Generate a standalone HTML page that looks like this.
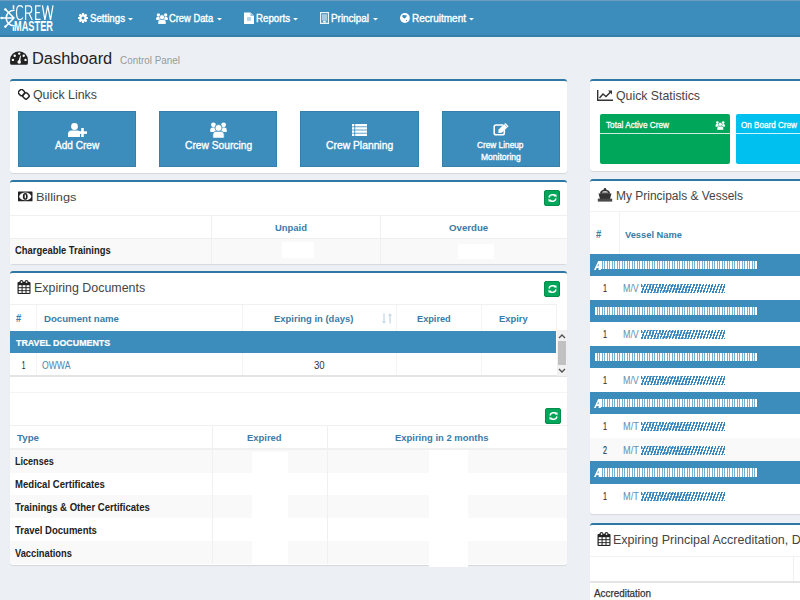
<!DOCTYPE html>
<html><head><meta charset="utf-8"><style>
html,body{margin:0;padding:0;}
body{width:800px;height:600px;overflow:hidden;position:relative;background:#ecf0f5;font-family:"Liberation Sans",sans-serif;}
.t{position:absolute;white-space:nowrap;transform-origin:0 0;}
.r{position:absolute;display:block;}
.box{position:absolute;background:#fff;border-top:2px solid #2f78a5;border-radius:3px;box-shadow:0 1px 1px rgba(0,0,0,0.1);}
</style></head><body>
<div class="r" style="left:0px;top:0px;width:800px;height:37px;background:#3c8dbc;"></div>
<div class="r" style="left:0px;top:0px;width:800px;height:1px;background:#6c9ec2;"></div>
<div class="r" style="left:0px;top:34px;width:800px;height:1px;background:#3a8ac0;"></div>
<div class="r" style="left:0px;top:35px;width:800px;height:2px;background:#367fa8;"></div>
<svg class="r" style="left:0px;top:0px" width="56" height="36" viewBox="0 0 56 36"><g fill="none" stroke="#fff" stroke-width="1.6" stroke-linecap="round">
<path d="M14 10.2 A7.8 7.8 0 0 0 14 25.8"/>
<path d="M14 18 L1.5 18 M14 18 L5.3 9.3 M14 18 L5.3 26.7 M13.5 5.8 L13.5 8.5 M13.5 27.5 L13.5 30.2"/>
</g><g fill="#fff"><circle cx="1.6" cy="18" r="1.2"/><circle cx="5.4" cy="9.4" r="1.2"/><circle cx="5.4" cy="26.6" r="1.2"/></g>
<g fill="none" stroke="#fff" stroke-width="1.25">
<path d="M22.8 7.6 Q22.2 5.6 19.6 5.6 Q16.5 5.6 16.5 12.6 Q16.5 19.6 19.6 19.6 Q22.2 19.6 22.8 17.6"/>
<path d="M25.6 20 L25.6 5.8 L29 5.8 Q31.7 5.8 31.7 9.4 Q31.7 13 29 13 L25.6 13 M28.9 13 L32.2 20"/>
<path d="M40.6 5.8 L35.7 5.8 L35.7 19.4 L40.6 19.4 M35.7 12.5 L39.8 12.5"/>
<path d="M42.4 5.4 L44.9 20 L47.7 5.6 L50.5 20 L53 5.4"/>
</g></svg>
<div class="t" style="left:13.50px;top:17.50px;font-size:13.95px;line-height:17px;color:#fff;font-weight:bold;transform:scaleX(0.6623);">MASTER</div>
<div class="t" style="left:90.00px;top:11.50px;font-size:11.19px;line-height:13px;color:#fff;transform:scaleX(0.8651);-webkit-text-stroke:0.4px #fff;">Settings</div>
<div class="t" style="left:169.40px;top:11.50px;font-size:11.19px;line-height:13px;color:#fff;transform:scaleX(0.8349);-webkit-text-stroke:0.4px #fff;">Crew Data</div>
<div class="t" style="left:255.60px;top:11.50px;font-size:11.19px;line-height:13px;color:#fff;transform:scaleX(0.8680);-webkit-text-stroke:0.4px #fff;">Reports</div>
<div class="t" style="left:331.00px;top:11.50px;font-size:11.19px;line-height:13px;color:#fff;transform:scaleX(0.8854);-webkit-text-stroke:0.4px #fff;">Principal</div>
<div class="t" style="left:411.60px;top:11.50px;font-size:11.19px;line-height:13px;color:#fff;transform:scaleX(0.8952);-webkit-text-stroke:0.4px #fff;">Recruitment</div>
<svg class="r" style="left:128px;top:18px" width="5" height="3" viewBox="0 0 5 3"><path d="M0 0 L5 0 L2.5 2.6 Z" fill="#fff"/></svg>
<svg class="r" style="left:217px;top:18px" width="5" height="3" viewBox="0 0 5 3"><path d="M0 0 L5 0 L2.5 2.6 Z" fill="#fff"/></svg>
<svg class="r" style="left:293px;top:18px" width="5" height="3" viewBox="0 0 5 3"><path d="M0 0 L5 0 L2.5 2.6 Z" fill="#fff"/></svg>
<svg class="r" style="left:373px;top:18px" width="5" height="3" viewBox="0 0 5 3"><path d="M0 0 L5 0 L2.5 2.6 Z" fill="#fff"/></svg>
<svg class="r" style="left:469px;top:18px" width="5" height="3" viewBox="0 0 5 3"><path d="M0 0 L5 0 L2.5 2.6 Z" fill="#fff"/></svg>
<svg class="r" style="left:78px;top:13px" width="10" height="10" viewBox="0 0 10 10"><g fill="#fff"><circle cx="5" cy="5" r="3.6"/>
<rect x="3.9" y="0" width="2.2" height="10" rx="0.6"/><rect x="0" y="3.9" width="10" height="2.2" rx="0.6"/>
<rect x="3.9" y="0" width="2.2" height="10" rx="0.6" transform="rotate(45 5 5)"/><rect x="3.9" y="0" width="2.2" height="10" rx="0.6" transform="rotate(-45 5 5)"/></g>
<circle cx="5" cy="5" r="1.5" fill="#3c8dbc"/></svg>
<svg class="r" style="left:155.5px;top:12.5px" width="12" height="11.3" viewBox="0 0 17 16"><g fill="#fff"><circle cx="3.4" cy="2.8" r="2.4"/><circle cx="13.6" cy="2.8" r="2.4"/>
<path d="M0.3 10 L0.3 7.5 Q0.3 5.5 2.5 5.5 L5 5.5 Q6.5 5.5 6.5 7.5 L6.5 10 Z"/><path d="M16.7 10 L16.7 7.5 Q16.7 5.5 14.5 5.5 L12 5.5 Q10.5 5.5 10.5 7.5 L10.5 10 Z"/></g>
<g fill="#fff" stroke="#3c8dbc" stroke-width="0.8"><circle cx="8.5" cy="6" r="3.5"/><path d="M2.8 16.2 L2.8 12.5 Q2.8 9.3 6 9.3 L11 9.3 Q14.2 9.3 14.2 12.5 L14.2 16.2 Z"/></g></svg>
<svg class="r" style="left:244px;top:12px" width="10" height="12" viewBox="0 0 10 12"><path d="M0 0.5 L6.5 0.5 L10 4 L10 12 L0 12 Z" fill="#fff"/><path d="M6.5 0.5 L6.5 4 L10 4 Z" fill="#9cc3dc"/>
<rect x="3" y="5" width="4" height="4" fill="#b8d5e8"/></svg>
<svg class="r" style="left:320px;top:12px" width="9" height="12" viewBox="0 0 9 12"><rect x="0.6" y="0.6" width="7.8" height="10.8" fill="none" stroke="#e8f4f8" stroke-width="1.2"/>
<rect x="2" y="2.2" width="5" height="6.5" fill="#a9c9dd"/><path d="M2.3 10.5 Q4.5 7 6.7 10.5 Z" fill="#fff"/></svg>
<svg class="r" style="left:400px;top:13px" width="10" height="10" viewBox="0 0 10 10"><circle cx="4.9" cy="5" r="4.9" fill="#fff"/><path d="M2.2 3 Q2.5 1.5 3.8 2 Q4.5 2.6 5.5 2.2 Q6.8 1.8 6.6 3.2 Q6.3 4.5 4.6 5.6 Q3.5 5.2 2.9 4.5 Q2.2 3.8 2.2 3 Z" fill="#3c8dbc"/><circle cx="6.5" cy="7.5" r="0.6" fill="#3c8dbc"/></svg>
<svg class="r" style="left:10px;top:51px" width="18" height="14" viewBox="0 0 18 14"><path d="M9 0.2 A8.9 8.9 0 0 1 17.9 9.1 L17.9 12.3 Q17.9 13.8 16.4 13.8 L1.6 13.8 Q0.1 13.8 0.1 12.3 L0.1 9.1 A8.9 8.9 0 0 1 9 0.2 Z" fill="#222"/>
<g fill="#fff"><circle cx="9.2" cy="2.6" r="1.2"/><circle cx="4.7" cy="4.7" r="1.2"/><circle cx="13.7" cy="4.7" r="1.2"/><circle cx="2.9" cy="8.9" r="1.2"/><circle cx="15.5" cy="8.9" r="1.2"/>
<circle cx="9.2" cy="11" r="1.8"/><path d="M8.3 10.8 L10.2 4.6 L10.9 4.8 L10.1 11.2 Z"/></g></svg>
<div class="t" style="left:31.60px;top:48.70px;font-size:16.86px;line-height:20px;color:#222;transform:scaleX(0.9727);">Dashboard</div>
<div class="t" style="left:120.00px;top:52.80px;font-size:11.63px;line-height:14px;color:#999;transform:scaleX(0.8515);">Control Panel</div>
<div class="box" style="left:10px;top:79px;width:557px;height:92px"></div>
<svg class="r" style="left:18px;top:89px" width="12" height="11" viewBox="0 0 12 11"><g fill="none" stroke="#222" stroke-width="1.5"><rect x="0.8" y="0.8" width="5.5" height="5.5" rx="1.8" transform="rotate(45 3.5 3.5)"/><rect x="5.2" y="4.2" width="5.5" height="5.5" rx="1.8" transform="rotate(45 8 7)"/></g></svg>
<div class="t" style="left:33.00px;top:87.50px;font-size:12.35px;line-height:15px;color:#444;transform:scaleX(1.0020);">Quick Links</div>
<div class="r" style="left:18px;top:111px;width:118px;height:56px;background:#3c8dbc;border:1px solid #367fa9;box-sizing:border-box;"></div>
<div class="r" style="left:159px;top:111px;width:118px;height:56px;background:#3c8dbc;border:1px solid #367fa9;box-sizing:border-box;"></div>
<div class="r" style="left:300px;top:111px;width:119px;height:56px;background:#3c8dbc;border:1px solid #367fa9;box-sizing:border-box;"></div>
<div class="r" style="left:442px;top:111px;width:118px;height:56px;background:#3c8dbc;border:1px solid #367fa9;box-sizing:border-box;"></div>
<div class="t" style="left:54.70px;top:139.10px;font-size:10.76px;line-height:13px;color:#fff;transform:scaleX(0.9371);-webkit-text-stroke:0.35px #fff;">Add Crew</div>
<div class="t" style="left:184.80px;top:139.10px;font-size:10.76px;line-height:13px;color:#fff;transform:scaleX(0.9524);-webkit-text-stroke:0.35px #fff;">Crew Sourcing</div>
<div class="t" style="left:325.80px;top:139.10px;font-size:10.76px;line-height:13px;color:#fff;transform:scaleX(0.9605);-webkit-text-stroke:0.35px #fff;">Crew Planning</div>
<div class="t" style="left:477.30px;top:139.90px;font-size:9.01px;line-height:11px;color:#fff;transform:scaleX(0.9190);-webkit-text-stroke:0.35px #fff;">Crew Lineup</div>
<div class="t" style="left:480.70px;top:152.10px;font-size:9.01px;line-height:11px;color:#fff;transform:scaleX(0.9457);-webkit-text-stroke:0.35px #fff;">Monitoring</div>
<svg class="r" style="left:68px;top:123px" width="19" height="14" viewBox="0 0 19 14"><g fill="#fff"><circle cx="6.5" cy="3.5" r="3.4"/><path d="M0 14 L0 11 Q0 7.5 3.5 7.5 L9.5 7.5 Q11 7.5 12 8.5 L12 14 Z"/>
<rect x="10" y="8.3" width="9" height="2.6"/><rect x="13.2" y="5" width="2.6" height="9"/></g></svg>
<svg class="r" style="left:210px;top:122px" width="17" height="16" viewBox="0 0 17 16"><g fill="#fff"><circle cx="3.4" cy="2.8" r="2.4"/><circle cx="13.6" cy="2.8" r="2.4"/>
<path d="M0.3 10 L0.3 7.5 Q0.3 5.5 2.5 5.5 L5 5.5 Q6.5 5.5 6.5 7.5 L6.5 10 Z"/><path d="M16.7 10 L16.7 7.5 Q16.7 5.5 14.5 5.5 L12 5.5 Q10.5 5.5 10.5 7.5 L10.5 10 Z"/></g>
<g fill="#fff" stroke="#3c8dbc" stroke-width="0.8"><circle cx="8.5" cy="6" r="3.5"/><path d="M2.8 16.2 L2.8 12.5 Q2.8 9.3 6 9.3 L11 9.3 Q14.2 9.3 14.2 12.5 L14.2 16.2 Z"/></g></svg>
<svg class="r" style="left:352px;top:124px" width="15" height="13" viewBox="0 0 15 13"><g fill="#fff"><rect x="0" y="0" width="2.3" height="2.4"/><rect x="3.2" y="0" width="11.8" height="2.4"/>
<rect x="0" y="3.2" width="2.3" height="2.4"/><rect x="3.2" y="3.2" width="11.8" height="2.4"/>
<rect x="0" y="6.4" width="2.3" height="2.4"/><rect x="3.2" y="6.4" width="11.8" height="2.4"/>
<rect x="0" y="9.6" width="2.3" height="2.4"/><rect x="3.2" y="9.6" width="11.8" height="2.4"/></g></svg>
<svg class="r" style="left:493px;top:123px" width="16" height="13" viewBox="0 0 16 13"><path d="M10 2 L3 2 Q1.2 2 1.2 3.8 L1.2 10 Q1.2 11.8 3 11.8 L9.5 11.8 Q11.3 11.8 11.3 10 L11.3 7" fill="none" stroke="#fff" stroke-width="1.6"/>
<path d="M5.3 10 L5.6 6.6 L12.3 0 L15.6 3.3 L8.8 9.8 Z" fill="#fff"/><path d="M11.2 1.1 L14.5 4.4" stroke="#3c8dbc" stroke-width="0.6"/></svg>
<div class="box" style="left:10px;top:180px;width:557px;height:82px"></div>
<svg class="r" style="left:18px;top:191px" width="15" height="11" viewBox="0 0 15 11"><rect x="0" y="0.5" width="14.5" height="9.8" rx="0.5" fill="#222"/><ellipse cx="7.25" cy="5.4" rx="6" ry="3.9" fill="#fff"/><ellipse cx="7.25" cy="5.4" rx="2.4" ry="3.4" fill="#222"/><rect x="6.7" y="3.6" width="1.2" height="3.6" fill="#fff"/></svg>
<div class="t" style="left:35.50px;top:189.80px;font-size:11.63px;line-height:14px;color:#444;transform:scaleX(1.0987);">Billings</div>
<div class="r" style="left:544px;top:190px;width:16px;height:16px;background:#00a65a;border:1px solid #008d4c;box-sizing:border-box;border-radius:2px;"></div>
<svg class="r" style="left:548px;top:194px" width="9" height="8" viewBox="0 0 9 8"><g fill="none" stroke="#fff" stroke-width="1.5"><path d="M1 3.5 A3.5 3.5 0 0 1 7.3 2.2"/><path d="M8 4.5 A3.5 3.5 0 0 1 1.7 5.8"/></g>
<path d="M5.5 0.5 L8.5 0.5 L8.5 3.5 Z M3.5 7.5 L0.5 7.5 L0.5 4.5 Z" fill="#fff"/></svg>
<div class="r" style="left:10px;top:215px;width:557px;height:1px;background:#f0f0f0;"></div>
<div class="r" style="left:10px;top:238px;width:557px;height:1px;background:#eeeeee;"></div>
<div class="r" style="left:10px;top:239px;width:557px;height:25px;background:#f9f9f9;"></div>
<div class="r" style="left:211px;top:216px;width:1px;height:48px;background:#f0f0f0;"></div>
<div class="r" style="left:380px;top:216px;width:1px;height:48px;background:#f0f0f0;"></div>
<div class="t" style="left:275.00px;top:222.00px;font-size:9.45px;line-height:11px;color:#3a7ba6;font-weight:bold;transform:scaleX(0.9991);">Unpaid</div>
<div class="t" style="left:448.80px;top:222.00px;font-size:9.45px;line-height:11px;color:#3a7ba6;font-weight:bold;transform:scaleX(1.0232);">Overdue</div>
<div class="t" style="left:15.20px;top:245.20px;font-size:10.03px;line-height:12px;color:#222;font-weight:bold;transform:scaleX(0.9393);">Chargeable Trainings</div>
<div class="r" style="left:282px;top:242px;width:32px;height:16px;background:#fff;"></div>
<div class="r" style="left:458px;top:244px;width:36px;height:15px;background:#fff;"></div>
<div class="box" style="left:10px;top:271px;width:557px;height:292px"></div>
<svg class="r" style="left:17px;top:280px" width="14" height="14" viewBox="0 0 14 14"><path fill="#222" d="M0.5 3 Q0.5 2 1.5 2 L2.3 2 Q2.8 0 4.5 0 Q6.2 0 6.7 2 L7.3 2 Q7.8 0 9.5 0 Q11.2 0 11.7 2 L12.5 2 Q13.5 2 13.5 3 L13.5 13 Q13.5 14 12.5 14 L1.5 14 Q0.5 14 0.5 13 Z"/>
<g fill="#fff"><rect x="3.8" y="1.3" width="1.5" height="1.6"/><rect x="8.8" y="1.3" width="1.5" height="1.6"/>
<rect x="1.7" y="5.2" width="2.9" height="2"/><rect x="5.6" y="5.2" width="2.9" height="2"/><rect x="9.5" y="5.2" width="2.9" height="2"/>
<rect x="1.7" y="8.2" width="2.9" height="2"/><rect x="5.6" y="8.2" width="2.9" height="2"/><rect x="9.5" y="8.2" width="2.9" height="2"/>
<rect x="1.7" y="11.1" width="2.9" height="1.8"/><rect x="5.6" y="11.1" width="2.9" height="1.8"/><rect x="9.5" y="11.1" width="2.9" height="1.8"/></g></svg>
<div class="t" style="left:33.50px;top:279.90px;font-size:13.08px;line-height:16px;color:#444;transform:scaleX(0.9498);">Expiring Documents</div>
<div class="r" style="left:544px;top:281px;width:16px;height:16px;background:#00a65a;border:1px solid #008d4c;box-sizing:border-box;border-radius:2px;"></div>
<svg class="r" style="left:548px;top:285px" width="9" height="8" viewBox="0 0 9 8"><g fill="none" stroke="#fff" stroke-width="1.5"><path d="M1 3.5 A3.5 3.5 0 0 1 7.3 2.2"/><path d="M8 4.5 A3.5 3.5 0 0 1 1.7 5.8"/></g>
<path d="M5.5 0.5 L8.5 0.5 L8.5 3.5 Z M3.5 7.5 L0.5 7.5 L0.5 4.5 Z" fill="#fff"/></svg>
<div class="r" style="left:10px;top:304px;width:547px;height:1px;background:#f0f0f0;"></div>
<div class="r" style="left:36px;top:305px;width:1px;height:26px;background:#f4f4f4;"></div>
<div class="r" style="left:36px;top:353px;width:1px;height:23px;background:#f5f5f5;"></div>
<div class="r" style="left:242px;top:305px;width:1px;height:26px;background:#f4f4f4;"></div>
<div class="r" style="left:242px;top:353px;width:1px;height:23px;background:#f5f5f5;"></div>
<div class="r" style="left:396px;top:305px;width:1px;height:26px;background:#f4f4f4;"></div>
<div class="r" style="left:396px;top:353px;width:1px;height:23px;background:#f5f5f5;"></div>
<div class="r" style="left:481px;top:305px;width:1px;height:26px;background:#f4f4f4;"></div>
<div class="r" style="left:481px;top:353px;width:1px;height:23px;background:#f5f5f5;"></div>
<div class="r" style="left:556px;top:305px;width:1px;height:26px;background:#f2f2f2;"></div>
<div class="t" style="left:16.00px;top:311.50px;font-size:10.76px;line-height:13px;color:#3a7ba6;font-weight:bold;transform:scaleX(0.8711);">#</div>
<div class="t" style="left:43.80px;top:312.80px;font-size:9.45px;line-height:11px;color:#3a7ba6;font-weight:bold;transform:scaleX(1.0204);">Document name</div>
<div class="t" style="left:274.00px;top:313.30px;font-size:9.45px;line-height:11px;color:#3a7ba6;font-weight:bold;transform:scaleX(1.0017);">Expiring in (days)</div>
<div class="t" style="left:416.60px;top:313.30px;font-size:9.45px;line-height:11px;color:#3a7ba6;font-weight:bold;transform:scaleX(0.9748);">Expired</div>
<div class="t" style="left:499.20px;top:313.30px;font-size:9.45px;line-height:11px;color:#3a7ba6;font-weight:bold;transform:scaleX(0.9909);">Expiry</div>
<svg class="r" style="left:382px;top:313px" width="10" height="11" viewBox="0 0 10 11"><g fill="#c9dbe8"><path d="M2 11 L4 8 L2.7 8 L2.7 0.5 L1.3 0.5 L1.3 8 L0 8 Z"/><path d="M8 0 L10 3 L8.7 3 L8.7 10.5 L7.3 10.5 L7.3 3 L6 3 Z"/></g></svg>
<div class="r" style="left:10px;top:331px;width:546px;height:22px;background:#3c8dbc;"></div>
<div class="t" style="left:15.60px;top:337.70px;font-size:9.30px;line-height:11px;color:#fff;font-weight:bold;transform:scaleX(0.9526);-webkit-text-stroke:0.2px #fff;">TRAVEL DOCUMENTS</div>
<div class="t" style="left:22.20px;top:359.50px;font-size:10.03px;line-height:12px;color:#222;transform:scaleX(0.5749);-webkit-text-stroke:0.2px #222;">1</div>
<div class="t" style="left:41.90px;top:359.70px;font-size:10.03px;line-height:12px;color:#4a86ad;transform:scaleX(0.8611);">OWWA</div>
<div class="t" style="left:314.00px;top:359.50px;font-size:10.03px;line-height:12px;color:#333;transform:scaleX(0.9612);">30</div>
<div class="r" style="left:10px;top:375px;width:557px;height:2px;background:#e4e4e4;"></div>
<div class="r" style="left:557px;top:330px;width:10px;height:46px;background:#f1f1f1;"></div>
<div class="r" style="left:558px;top:341px;width:8px;height:24px;background:#c1c1c1;"></div>
<svg class="r" style="left:558px;top:333px" width="8" height="6" viewBox="0 0 8 6"><path d="M1 5 L4 2 L7 5" fill="none" stroke="#505050" stroke-width="1.4"/></svg>
<svg class="r" style="left:558px;top:368px" width="8" height="6" viewBox="0 0 8 6"><path d="M1 1 L4 4 L7 1" fill="none" stroke="#505050" stroke-width="1.4"/></svg>
<div class="r" style="left:10px;top:392px;width:557px;height:1px;background:#f4f4f4;"></div>
<div class="r" style="left:545px;top:408px;width:16px;height:16px;background:#00a65a;border:1px solid #008d4c;box-sizing:border-box;border-radius:2px;"></div>
<svg class="r" style="left:549px;top:412px" width="9" height="8" viewBox="0 0 9 8"><g fill="none" stroke="#fff" stroke-width="1.5"><path d="M1 3.5 A3.5 3.5 0 0 1 7.3 2.2"/><path d="M8 4.5 A3.5 3.5 0 0 1 1.7 5.8"/></g>
<path d="M5.5 0.5 L8.5 0.5 L8.5 3.5 Z M3.5 7.5 L0.5 7.5 L0.5 4.5 Z" fill="#fff"/></svg>
<div class="r" style="left:10px;top:425px;width:557px;height:1px;background:#f0f0f0;"></div>
<div class="r" style="left:10px;top:448px;width:557px;height:2px;background:#f0f0f0;"></div>
<div class="r" style="left:10px;top:450px;width:557px;height:23px;background:#f9f9f9;"></div>
<div class="r" style="left:10px;top:473px;width:557px;height:22px;background:#fff;"></div>
<div class="r" style="left:10px;top:495px;width:557px;height:23px;background:#f9f9f9;"></div>
<div class="r" style="left:10px;top:518px;width:557px;height:23px;background:#fff;"></div>
<div class="r" style="left:10px;top:541px;width:557px;height:23px;background:#f9f9f9;"></div>
<div class="r" style="left:212px;top:426px;width:1px;height:138px;background:#f0f0f0;"></div>
<div class="r" style="left:327px;top:426px;width:1px;height:138px;background:#f0f0f0;"></div>
<div class="t" style="left:17.00px;top:432.00px;font-size:9.45px;line-height:11px;color:#3a7ba6;font-weight:bold;transform:scaleX(1.0304);">Type</div>
<div class="t" style="left:246.70px;top:432.00px;font-size:9.45px;line-height:11px;color:#3a7ba6;font-weight:bold;transform:scaleX(0.9979);">Expired</div>
<div class="t" style="left:394.70px;top:432.00px;font-size:9.45px;line-height:11px;color:#3a7ba6;font-weight:bold;transform:scaleX(1.0007);">Expiring in 2 months</div>
<div class="t" style="left:14.70px;top:455.70px;font-size:10.03px;line-height:12px;color:#222;font-weight:bold;transform:scaleX(0.9039);">Licenses</div>
<div class="t" style="left:14.70px;top:478.70px;font-size:10.03px;line-height:12px;color:#222;font-weight:bold;transform:scaleX(0.9552);">Medical Certificates</div>
<div class="t" style="left:14.70px;top:501.70px;font-size:10.03px;line-height:12px;color:#222;font-weight:bold;transform:scaleX(0.9537);">Trainings &amp; Other Certificates</div>
<div class="t" style="left:14.70px;top:524.70px;font-size:10.03px;line-height:12px;color:#222;font-weight:bold;transform:scaleX(0.9491);">Travel Documents</div>
<div class="t" style="left:14.70px;top:547.70px;font-size:10.03px;line-height:12px;color:#222;font-weight:bold;transform:scaleX(0.9294);">Vaccinations</div>
<div class="r" style="left:252px;top:452px;width:36px;height:112px;background:#fff;"></div>
<div class="r" style="left:429px;top:450px;width:39px;height:117px;background:#fff;"></div>
<div class="box" style="left:590px;top:79px;width:240px;height:90px"></div>
<svg class="r" style="left:597px;top:90px" width="16" height="11" viewBox="0 0 16 11"><g fill="none" stroke="#333" stroke-width="1.4"><path d="M0.7 0 L0.7 10.3 L16 10.3"/><path d="M2.5 8 L6 4 L9 6.5 L14 1.5"/></g><path d="M11 0.5 L15 0.5 L15 4.5 Z" fill="#333"/></svg>
<div class="t" style="left:616.00px;top:87.50px;font-size:12.72px;line-height:15px;color:#444;transform:scaleX(0.9663);">Quick Statistics</div>
<div class="r" style="left:600px;top:114px;width:130px;height:50px;background:#00a65a;border-radius:2px;"></div>
<div class="r" style="left:600px;top:133px;width:130px;height:1px;background:rgba(255,255,255,0.8);"></div>
<div class="r" style="left:736px;top:114px;width:94px;height:50px;background:#00c0ef;border-radius:2px;"></div>
<div class="r" style="left:736px;top:133px;width:94px;height:1px;background:rgba(255,255,255,0.8);"></div>
<div class="t" style="left:606.00px;top:119.50px;font-size:8.87px;line-height:11px;color:#fff;transform:scaleX(0.9264);-webkit-text-stroke:0.3px #fff;">Total Active Crew</div>
<div class="t" style="left:741.00px;top:119.50px;font-size:8.87px;line-height:11px;color:#fff;transform:scaleX(0.9160);-webkit-text-stroke:0.3px #fff;">On Board Crew</div>
<svg class="r" style="left:715px;top:120.8px" width="10.5" height="9" viewBox="0 0 17 16"><g fill="#fff"><circle cx="3.4" cy="2.8" r="2.4"/><circle cx="13.6" cy="2.8" r="2.4"/>
<path d="M0.3 10 L0.3 7.5 Q0.3 5.5 2.5 5.5 L5 5.5 Q6.5 5.5 6.5 7.5 L6.5 10 Z"/><path d="M16.7 10 L16.7 7.5 Q16.7 5.5 14.5 5.5 L12 5.5 Q10.5 5.5 10.5 7.5 L10.5 10 Z"/></g>
<g fill="#fff" stroke="#00a65a" stroke-width="0.8"><circle cx="8.5" cy="6" r="3.5"/><path d="M2.8 16.2 L2.8 12.5 Q2.8 9.3 6 9.3 L11 9.3 Q14.2 9.3 14.2 12.5 L14.2 16.2 Z"/></g></svg>
<div class="box" style="left:590px;top:179px;width:240px;height:333px"></div>
<svg class="r" style="left:597px;top:188px" width="16" height="14" viewBox="0 0 16 14"><g fill="#333"><circle cx="8" cy="1.3" r="1.3"/><path d="M3 5.8 Q3 1.8 8 1.8 Q13 1.8 13 5.8 Z"/><path d="M1.5 5.5 L14.5 5.5 L13 11 L3 11 Z"/><rect x="0.8" y="10.6" width="14.4" height="3" fill="#4a4a4a"/></g>
<path d="M4.8 4.6 Q5.5 3.3 8 3.3 Q10.5 3.3 11.2 4.6 Z" fill="#fff"/></svg>
<div class="t" style="left:616.00px;top:187.50px;font-size:13.08px;line-height:16px;color:#444;transform:scaleX(0.9146);">My Principals &amp; Vessels</div>
<div class="r" style="left:590px;top:211px;width:240px;height:1px;background:#f2f2f2;"></div>
<div class="r" style="left:619px;top:212px;width:1px;height:42px;background:#f2f2f2;"></div>
<div class="t" style="left:595.70px;top:227.50px;font-size:10.76px;line-height:13px;color:#3a7ba6;font-weight:bold;transform:scaleX(0.8711);">#</div>
<div class="t" style="left:625.00px;top:228.70px;font-size:9.45px;line-height:11px;color:#3a7ba6;font-weight:bold;transform:scaleX(0.9866);">Vessel Name</div>
<div class="r" style="left:590px;top:254px;width:240px;height:22px;background:#3c8dbc;"></div>
<div class="r" style="left:600px;top:261px;width:157px;height:8px;background:repeating-linear-gradient(90deg,#fff 0,#fff 1.7px,rgba(255,255,255,0.3) 1.7px,rgba(255,255,255,0.3) 2.6px,#fff 2.6px,#fff 4px,rgba(255,255,255,0.3) 4px,rgba(255,255,255,0.3) 5px);"></div>
<svg class="r" style="left:594px;top:261px" width="7" height="9" viewBox="0 0 7 9"><path d="M0 9 L4.2 0 L6.8 0 L6.8 9 L4.6 9 L4.6 7 L2.6 7 L1.8 9 Z M3.3 5.2 L4.6 5.2 L4.6 2.4 Z" fill="#fff" fill-rule="evenodd"/></svg>
<div class="r" style="left:590px;top:276px;width:240px;height:24px;background:#fff;"></div>
<div class="t" style="left:602.50px;top:281.50px;font-size:10.47px;line-height:13px;color:#333;transform:scaleX(0.6887);-webkit-text-stroke:0.15px #333;">1</div>
<div class="t" style="left:623.00px;top:281.50px;font-size:10.47px;line-height:13px;color:#5f8faf;transform:scaleX(0.8482);">M/V</div>
<div class="r" style="left:641px;top:283.5px;width:84px;height:9.0px;background:repeating-linear-gradient(110deg,#3a88bd 0,#3a88bd 1.5px,transparent 1.5px,transparent 2.9px);"></div>
<div class="r" style="left:641px;top:283.5px;width:49px;height:9.0px;background:repeating-linear-gradient(70deg,rgba(58,136,189,0.6) 0,rgba(58,136,189,0.6) 1px,transparent 1px,transparent 3.3px);"></div>
<div class="r" style="left:590px;top:300px;width:240px;height:22px;background:#3c8dbc;"></div>
<div class="r" style="left:595px;top:307px;width:162px;height:8px;background:repeating-linear-gradient(90deg,#fff 0,#fff 1.7px,rgba(255,255,255,0.3) 1.7px,rgba(255,255,255,0.3) 2.6px,#fff 2.6px,#fff 4px,rgba(255,255,255,0.3) 4px,rgba(255,255,255,0.3) 5px);"></div>
<div class="r" style="left:590px;top:322px;width:240px;height:24px;background:#fff;"></div>
<div class="t" style="left:602.50px;top:327.50px;font-size:10.47px;line-height:13px;color:#333;transform:scaleX(0.6887);-webkit-text-stroke:0.15px #333;">1</div>
<div class="t" style="left:623.00px;top:327.50px;font-size:10.47px;line-height:13px;color:#5f8faf;transform:scaleX(0.8482);">M/V</div>
<div class="r" style="left:641px;top:329.5px;width:84px;height:9.0px;background:repeating-linear-gradient(110deg,#3a88bd 0,#3a88bd 1.5px,transparent 1.5px,transparent 2.9px);"></div>
<div class="r" style="left:641px;top:329.5px;width:49px;height:9.0px;background:repeating-linear-gradient(70deg,rgba(58,136,189,0.6) 0,rgba(58,136,189,0.6) 1px,transparent 1px,transparent 3.3px);"></div>
<div class="r" style="left:590px;top:346px;width:240px;height:22px;background:#3c8dbc;"></div>
<div class="r" style="left:595px;top:353px;width:162px;height:8px;background:repeating-linear-gradient(90deg,#fff 0,#fff 1.7px,rgba(255,255,255,0.3) 1.7px,rgba(255,255,255,0.3) 2.6px,#fff 2.6px,#fff 4px,rgba(255,255,255,0.3) 4px,rgba(255,255,255,0.3) 5px);"></div>
<div class="r" style="left:590px;top:368px;width:240px;height:24px;background:#fff;"></div>
<div class="t" style="left:602.50px;top:373.50px;font-size:10.47px;line-height:13px;color:#333;transform:scaleX(0.6887);-webkit-text-stroke:0.15px #333;">1</div>
<div class="t" style="left:623.00px;top:373.50px;font-size:10.47px;line-height:13px;color:#5f8faf;transform:scaleX(0.8482);">M/V</div>
<div class="r" style="left:641px;top:375.5px;width:84px;height:9.0px;background:repeating-linear-gradient(110deg,#3a88bd 0,#3a88bd 1.5px,transparent 1.5px,transparent 2.9px);"></div>
<div class="r" style="left:641px;top:375.5px;width:49px;height:9.0px;background:repeating-linear-gradient(70deg,rgba(58,136,189,0.6) 0,rgba(58,136,189,0.6) 1px,transparent 1px,transparent 3.3px);"></div>
<div class="r" style="left:590px;top:392px;width:240px;height:22px;background:#3c8dbc;"></div>
<div class="r" style="left:600px;top:399px;width:157px;height:8px;background:repeating-linear-gradient(90deg,#fff 0,#fff 1.7px,rgba(255,255,255,0.3) 1.7px,rgba(255,255,255,0.3) 2.6px,#fff 2.6px,#fff 4px,rgba(255,255,255,0.3) 4px,rgba(255,255,255,0.3) 5px);"></div>
<svg class="r" style="left:594px;top:399px" width="7" height="9" viewBox="0 0 7 9"><path d="M0 9 L4.2 0 L6.8 0 L6.8 9 L4.6 9 L4.6 7 L2.6 7 L1.8 9 Z M3.3 5.2 L4.6 5.2 L4.6 2.4 Z" fill="#fff" fill-rule="evenodd"/></svg>
<div class="r" style="left:590px;top:414px;width:240px;height:24px;background:#fff;"></div>
<div class="t" style="left:602.50px;top:419.50px;font-size:10.47px;line-height:13px;color:#333;transform:scaleX(0.6887);-webkit-text-stroke:0.15px #333;">1</div>
<div class="t" style="left:623.00px;top:419.50px;font-size:10.47px;line-height:13px;color:#5f8faf;transform:scaleX(0.8778);">M/T</div>
<div class="r" style="left:641px;top:421.5px;width:84px;height:9.0px;background:repeating-linear-gradient(110deg,#3a88bd 0,#3a88bd 1.5px,transparent 1.5px,transparent 2.9px);"></div>
<div class="r" style="left:641px;top:421.5px;width:49px;height:9.0px;background:repeating-linear-gradient(70deg,rgba(58,136,189,0.6) 0,rgba(58,136,189,0.6) 1px,transparent 1px,transparent 3.3px);"></div>
<div class="r" style="left:590px;top:438px;width:240px;height:23px;background:#f9f9f9;"></div>
<div class="t" style="left:602.50px;top:443.50px;font-size:10.47px;line-height:13px;color:#333;transform:scaleX(0.6887);-webkit-text-stroke:0.15px #333;">2</div>
<div class="t" style="left:623.00px;top:443.50px;font-size:10.47px;line-height:13px;color:#5f8faf;transform:scaleX(0.8778);">M/T</div>
<div class="r" style="left:641px;top:445.5px;width:84px;height:9.0px;background:repeating-linear-gradient(110deg,#3a88bd 0,#3a88bd 1.5px,transparent 1.5px,transparent 2.9px);"></div>
<div class="r" style="left:641px;top:445.5px;width:49px;height:9.0px;background:repeating-linear-gradient(70deg,rgba(58,136,189,0.6) 0,rgba(58,136,189,0.6) 1px,transparent 1px,transparent 3.3px);"></div>
<div class="r" style="left:590px;top:461px;width:240px;height:23px;background:#3c8dbc;"></div>
<div class="r" style="left:600px;top:468px;width:157px;height:9px;background:repeating-linear-gradient(90deg,#fff 0,#fff 1.7px,rgba(255,255,255,0.3) 1.7px,rgba(255,255,255,0.3) 2.6px,#fff 2.6px,#fff 4px,rgba(255,255,255,0.3) 4px,rgba(255,255,255,0.3) 5px);"></div>
<svg class="r" style="left:594px;top:468px" width="7" height="9" viewBox="0 0 7 9"><path d="M0 9 L4.2 0 L6.8 0 L6.8 9 L4.6 9 L4.6 7 L2.6 7 L1.8 9 Z M3.3 5.2 L4.6 5.2 L4.6 2.4 Z" fill="#fff" fill-rule="evenodd"/></svg>
<div class="r" style="left:590px;top:484px;width:240px;height:23px;background:#fff;"></div>
<div class="t" style="left:602.50px;top:489.50px;font-size:10.47px;line-height:13px;color:#333;transform:scaleX(0.6887);-webkit-text-stroke:0.15px #333;">1</div>
<div class="t" style="left:623.00px;top:489.50px;font-size:10.47px;line-height:13px;color:#5f8faf;transform:scaleX(0.8778);">M/T</div>
<div class="r" style="left:641px;top:491.5px;width:84px;height:9.0px;background:repeating-linear-gradient(110deg,#3a88bd 0,#3a88bd 1.5px,transparent 1.5px,transparent 2.9px);"></div>
<div class="r" style="left:641px;top:491.5px;width:49px;height:9.0px;background:repeating-linear-gradient(70deg,rgba(58,136,189,0.6) 0,rgba(58,136,189,0.6) 1px,transparent 1px,transparent 3.3px);"></div>
<div class="box" style="left:590px;top:523px;width:240px;height:95px"></div>
<svg class="r" style="left:596.5px;top:532px" width="14" height="14" viewBox="0 0 14 14"><path fill="#222" d="M0.5 3 Q0.5 2 1.5 2 L2.3 2 Q2.8 0 4.5 0 Q6.2 0 6.7 2 L7.3 2 Q7.8 0 9.5 0 Q11.2 0 11.7 2 L12.5 2 Q13.5 2 13.5 3 L13.5 13 Q13.5 14 12.5 14 L1.5 14 Q0.5 14 0.5 13 Z"/>
<g fill="#fff"><rect x="3.8" y="1.3" width="1.5" height="1.6"/><rect x="8.8" y="1.3" width="1.5" height="1.6"/>
<rect x="1.7" y="5.2" width="2.9" height="2"/><rect x="5.6" y="5.2" width="2.9" height="2"/><rect x="9.5" y="5.2" width="2.9" height="2"/>
<rect x="1.7" y="8.2" width="2.9" height="2"/><rect x="5.6" y="8.2" width="2.9" height="2"/><rect x="9.5" y="8.2" width="2.9" height="2"/>
<rect x="1.7" y="11.1" width="2.9" height="1.8"/><rect x="5.6" y="11.1" width="2.9" height="1.8"/><rect x="9.5" y="11.1" width="2.9" height="1.8"/></g></svg>
<div class="t" style="left:613.00px;top:531.50px;font-size:13.37px;line-height:16px;color:#444;transform:scaleX(0.9368);">Expiring Principal Accreditation, Date</div>
<div class="r" style="left:590px;top:556px;width:240px;height:1px;background:#f2f2f2;"></div>
<div class="r" style="left:793px;top:557px;width:1px;height:24px;background:#f0f0f0;"></div>
<div class="r" style="left:590px;top:581px;width:240px;height:2px;background:#e4e4e4;"></div>
<div class="t" style="left:594.40px;top:586.70px;font-size:10.61px;line-height:13px;color:#333;transform:scaleX(0.9294);-webkit-text-stroke:0.25px #333;">Accreditation</div>
</body></html>
